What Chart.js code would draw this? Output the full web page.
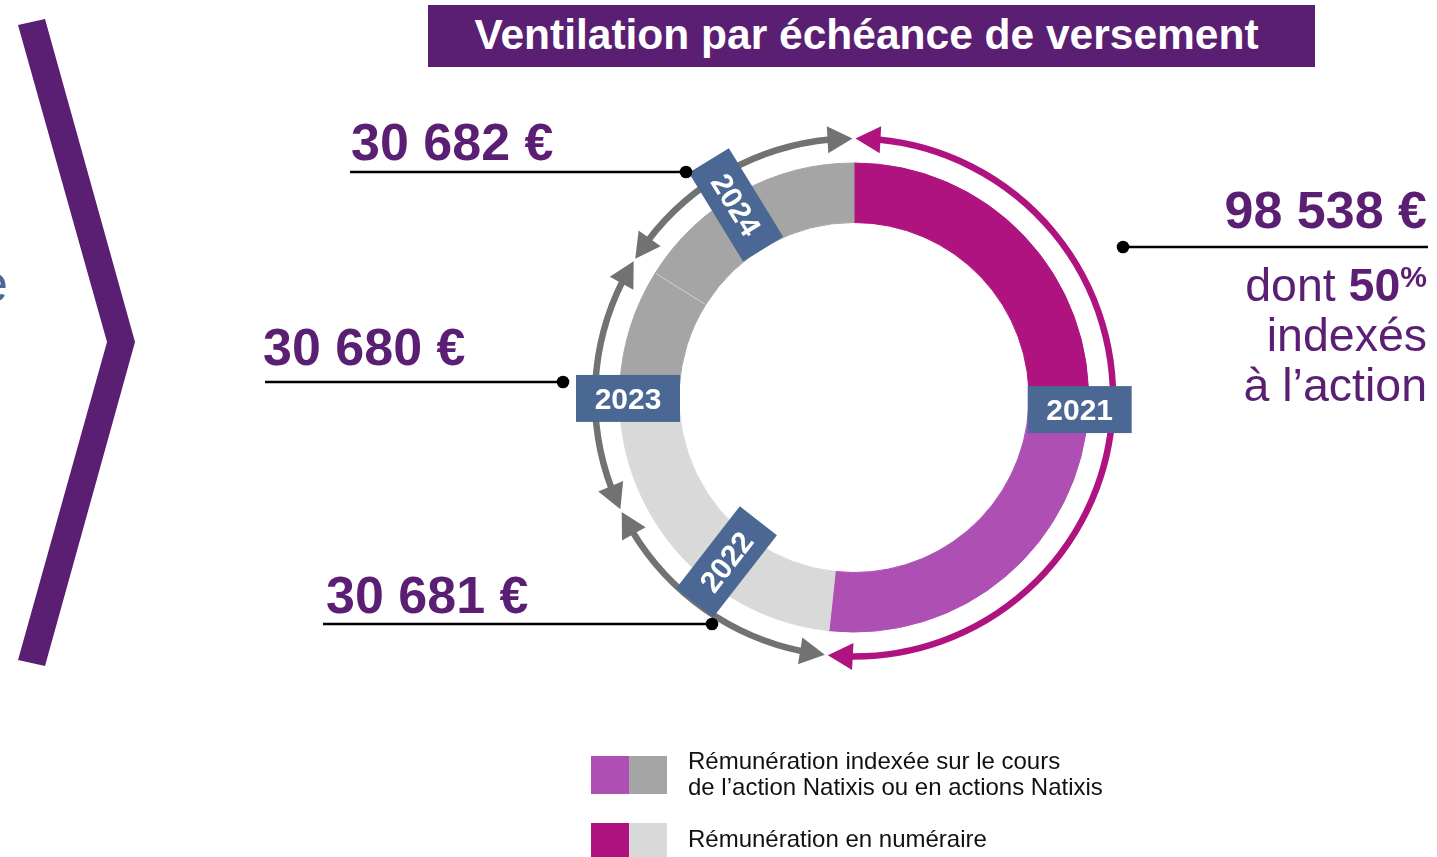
<!DOCTYPE html>
<html><head><meta charset="utf-8">
<script src="https://cdn.jsdelivr.net/npm/chart.js@4.4.0/dist/chart.umd.min.js"></script>
<style>
html,body{margin:0;padding:0;background:#fff;}
body{width:1437px;height:857px;position:relative;overflow:hidden;font-family:"Liberation Sans",Arial,sans-serif;}
#wrap{position:absolute;left:0;top:0;width:1437px;height:857px;}
.t{position:absolute;white-space:nowrap;line-height:1;}
.amt{font-size:52px;font-weight:bold;color:#5A1E73;}
#title{position:absolute;left:428px;top:5px;width:887px;height:62px;background:#5A1E73;color:#fff;font-weight:bold;font-size:42.5px;line-height:59px;text-align:center;white-space:nowrap;text-indent:-10px;}
#desc{position:absolute;right:10px;top:260px;font-size:46.5px;line-height:50px;color:#5A1E73;text-align:right;white-space:nowrap;}
#desc b{font-weight:bold;}
#desc .pc{font-weight:bold;font-size:30px;position:relative;top:-14px;line-height:0;}
.sw{position:absolute;width:38px;}
.lg{position:absolute;left:688px;font-size:24px;color:#111;white-space:nowrap;line-height:26px;}
</style></head><body>
<div id="wrap"><canvas id="c"></canvas></div>
<div id="title">Ventilation par échéance de versement</div>
<div class="t" style="left:-21px;top:257px;font-size:52px;color:#4B6894;">e</div>
<div id="overlay"></div>
<script>
// ---- data ----
const years = ['2021', '2022', '2023', '2024'];
const yearAmounts = [98538, 30681, 30680, 30682];
const segLabels = ['2021 numéraire', '2021 indexé', '2022 numéraire', '2023 numéraire', '2023 indexé', '2024 indexé'];
const segValues = [49269, 49269, 30681, 15340, 15340, 30682];
const segYear = [0, 0, 1, 2, 2, 3];
const segColors = ['#AF1380', '#AD4FB3', '#D9D9D9', '#D9D9D9', '#A5A5A5', '#A5A5A5'];
const indexedShare = '50';
const legendItems = [
  {colors: ['#AD4FB3', '#A5A5A5'], text: ['Rémunération indexée sur le cours', 'de l’action Natixis ou en actions Natixis']},
  {colors: ['#AF1380', '#D9D9D9'], text: ['Rémunération en numéraire']}
];

// ---- layout (decoration) ----
const PURPLE = '#5A1E73', BOX = '#4B6894', GRAY_ARROW = '#707372', MAGENTA = '#AF1380';
const yearLabelRotated = [false, true, false, true];
const yearLabelRadius = [226, 208, 226, 226];
const yearLabelAngleShiftDeg = [0, 2.7, -3.3, -2.5];
const arrowColors = [MAGENTA, GRAY_ARROW, GRAY_ARROW, GRAY_ARROW];
const leaders = [
  {x1: 1123, x2: 1428, y: 247, dotX: 1123},
  {x1: 323, x2: 712, y: 624, dotX: 712},
  {x1: 265, x2: 563, y: 382, dotX: 563},
  {x1: 350, x2: 686, y: 172, dotX: 686}
];
const amountPos = [null, {left: 326, top: 569}, {left: 263, top: 321}, {left: 351, top: 116}];

function fmt(n) { return String(n).replace(/\B(?=(\d{3})+(?!\d))/g, '\u00A0') + '\u00A0€'; }

const ov = document.getElementById('overlay');
yearAmounts.forEach((v, i) => {
  const d = document.createElement('div');
  d.className = 't amt';
  d.textContent = fmt(v);
  if (i === 0) { d.style.right = '10px'; d.style.top = '184px'; }
  else { d.style.left = amountPos[i].left + 'px'; d.style.top = amountPos[i].top + 'px'; }
  ov.appendChild(d);
});
const desc = document.createElement('div');
desc.id = 'desc';
desc.innerHTML = 'dont <b>' + indexedShare + '</b><span class="pc">%</span><br>indexés<br>à l’action';
ov.appendChild(desc);
const legTops = [756, 823], legH = [38, 34], legTextTop = [748, 826];
legendItems.forEach((it, i) => {
  it.colors.forEach((c, j) => {
    const s = document.createElement('div');
    s.className = 'sw';
    s.style.left = (591 + 38 * j) + 'px';
    s.style.top = legTops[i] + 'px';
    s.style.height = legH[i] + 'px';
    s.style.background = c;
    ov.appendChild(s);
  });
  const t = document.createElement('div');
  t.className = 'lg';
  t.style.top = legTextTop[i] + 'px';
  t.innerHTML = it.text.join('<br>');
  ov.appendChild(t);
});

function chevron(ctx) {
  ctx.save();
  ctx.fillStyle = PURPLE;
  ctx.beginPath();
  ctx.moveTo(18, 25); ctx.lineTo(45, 19); ctx.lineTo(135, 342);
  ctx.lineTo(45, 666); ctx.lineTo(18, 660); ctx.lineTo(107, 342);
  ctx.closePath(); ctx.fill();
  ctx.restore();
}

function arrowArc(ctx, cx, cy, r, a0, a1, color) {
  const lw = 6.5, L = 25, W = 27;
  const da = L / r;
  const b0 = a0 + da, b1 = a1 - da;
  ctx.save();
  ctx.strokeStyle = color; ctx.fillStyle = color; ctx.lineWidth = lw;
  ctx.beginPath(); ctx.arc(cx, cy, r, b0 - 0.01, b1 + 0.01); ctx.stroke();
  [[a0, b0], [a1, b1]].forEach(([at, ab]) => {
    const tx = cx + r * Math.cos(at), ty = cy + r * Math.sin(at);
    const bx = cx + r * Math.cos(ab), by = cy + r * Math.sin(ab);
    let ux = tx - bx, uy = ty - by; const l = Math.hypot(ux, uy); ux /= l; uy /= l;
    const nx = -uy, ny = ux;
    ctx.beginPath(); ctx.moveTo(tx, ty);
    ctx.lineTo(bx + nx * W / 2, by + ny * W / 2);
    ctx.lineTo(bx - nx * W / 2, by - ny * W / 2);
    ctx.closePath(); ctx.fill();
  });
  ctx.restore();
}

const decor = {
  id: 'decor',
  beforeDraw(chart) { chevron(chart.ctx); },
  afterDatasetsDraw(chart) {
    const ctx = chart.ctx;
    const arcs = chart.getDatasetMeta(0).data;
    const cx = arcs[0].x, cy = arcs[0].y;
    const outer = arcs[0].outerRadius, inner = arcs[0].innerRadius;
    ctx.save();
    ctx.strokeStyle = 'rgba(255,255,255,0.45)'; ctx.lineWidth = 1;
    const sa = arcs[4].endAngle;
    ctx.beginPath();
    ctx.moveTo(cx + (inner + 1) * Math.cos(sa), cy + (inner + 1) * Math.sin(sa));
    ctx.lineTo(cx + (outer - 1) * Math.cos(sa), cy + (outer - 1) * Math.sin(sa));
    ctx.stroke();
    ctx.restore();
    const spans = years.map((y, yi) => {
      const idx = segYear.map((v, k) => v === yi ? k : -1).filter(k => k >= 0);
      return [Math.min(...idx.map(k => arcs[k].startAngle)), Math.max(...idx.map(k => arcs[k].endAngle))];
    });
    const rA = outer + 24.5, gap = 1.5 / rA;
    spans.forEach((s, yi) => arrowArc(ctx, cx, cy, rA, s[0] + gap, s[1] - gap, arrowColors[yi]));
    spans.forEach((s, yi) => {
      const mid = (s[0] + s[1]) / 2 + yearLabelAngleShiftDeg[yi] * Math.PI / 180;
      const r = yearLabelRadius[yi];
      const x = cx + r * Math.cos(mid), y = cy + r * Math.sin(mid);
      ctx.save();
      ctx.translate(x, y);
      if (yearLabelRotated[yi]) ctx.rotate(Math.atan2(-Math.sin(mid), -Math.cos(mid)));
      ctx.fillStyle = BOX;
      ctx.fillRect(-52, -23.5, 104, 47);
      ctx.fillStyle = '#fff';
      ctx.font = 'bold 30px "Liberation Sans", Arial, sans-serif';
      ctx.textAlign = 'center'; ctx.textBaseline = 'middle';
      ctx.fillText(years[yi], 0, 2);
      ctx.restore();
    });
    ctx.save();
    ctx.strokeStyle = '#000'; ctx.fillStyle = '#000'; ctx.lineWidth = 2.7;
    leaders.forEach(l => {
      ctx.beginPath(); ctx.moveTo(l.x1, l.y); ctx.lineTo(l.x2, l.y); ctx.stroke();
      ctx.beginPath(); ctx.arc(l.dotX, l.y, 6.3, 0, Math.PI * 2); ctx.fill();
    });
    ctx.restore();
  }
};

new Chart(document.getElementById('c'), {
  type: 'doughnut',
  data: {labels: segLabels, datasets: [{data: segValues, backgroundColor: segColors, borderColor: segColors, borderWidth: 1, hoverOffset: 0}]},
  options: {
    responsive: true, maintainAspectRatio: false, animation: false, events: [],
    cutout: 175,
    layout: {padding: {left: 619, top: 162.5, right: 348, bottom: 224.5}},
    plugins: {legend: {display: false}, tooltip: {enabled: false}}
  },
  plugins: [decor]
});
</script>
</body></html>
